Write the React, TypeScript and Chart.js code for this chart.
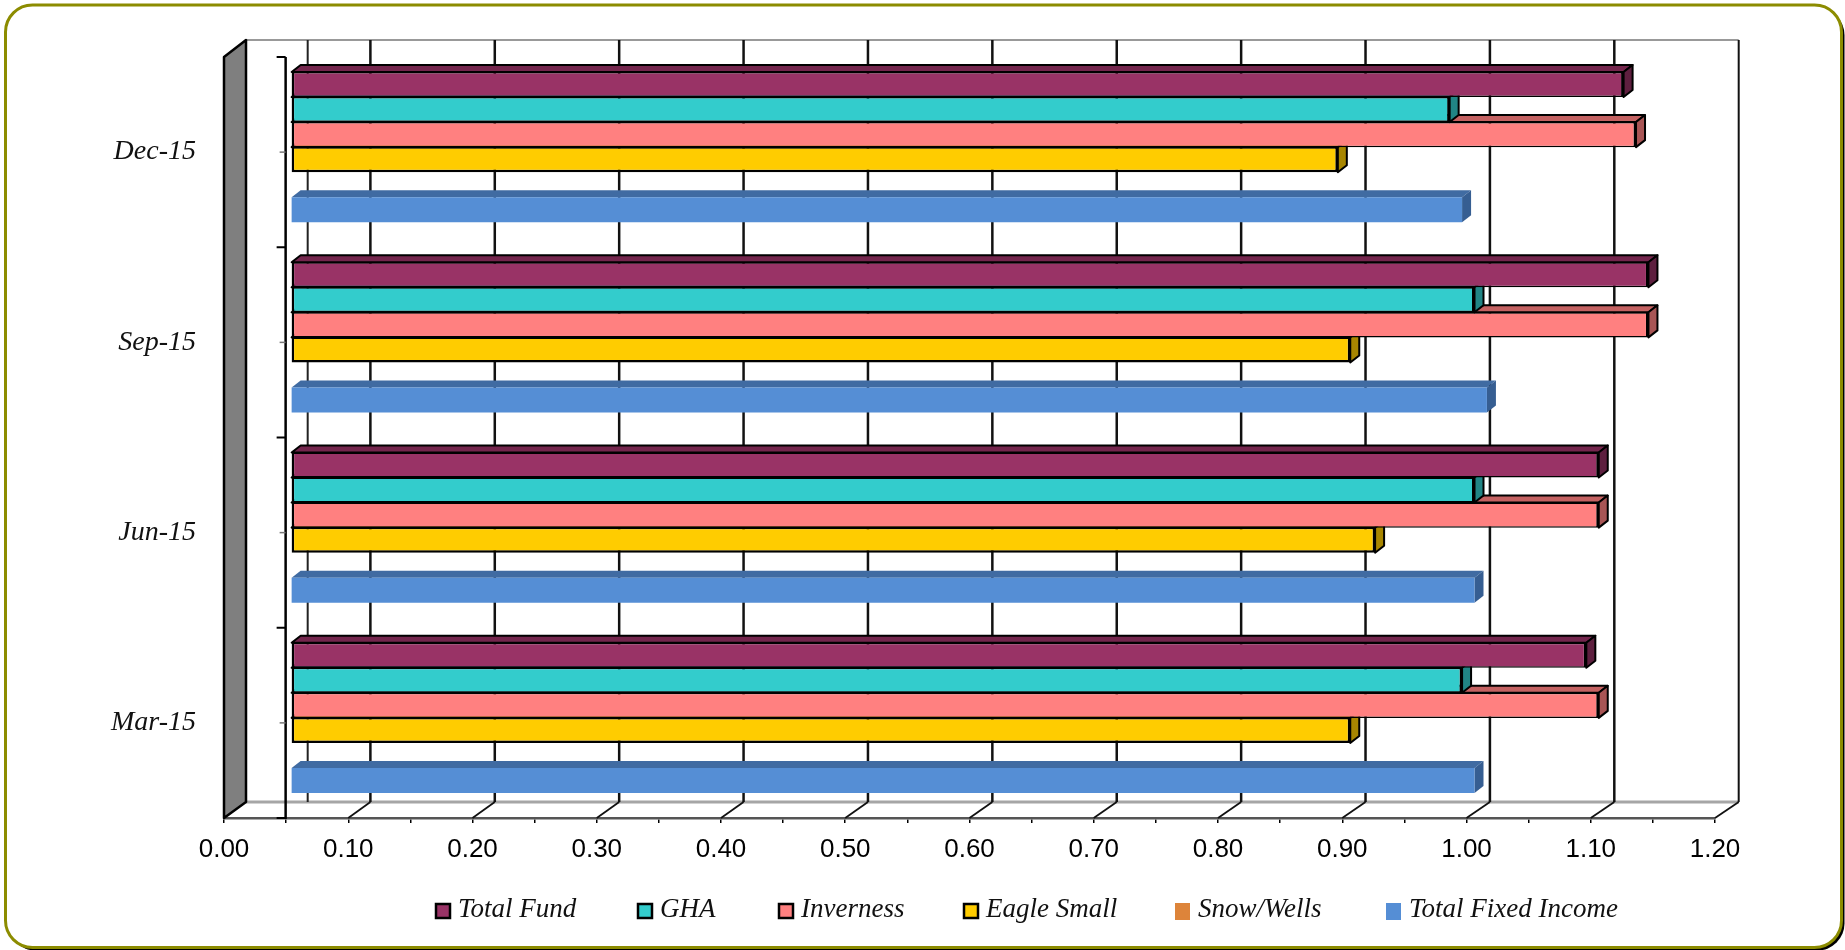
import React, { useEffect, useRef } from "react";
import { Chart, registerables } from "chart.js";

Chart.register(...registerables);

const categories = ["Dec-15", "Sep-15", "Jun-15", "Mar-15"];
const totalFund = [1.12, 1.14, 1.1, 1.09];
const gha = [0.98, 1.0, 1.0, 0.99];
const inverness = [1.13, 1.14, 1.1, 1.1];
const eagleSmall = [0.89, 0.9, 0.92, 0.9];
const snowWells = [null, null, null, null];
const totalFixedIncome = [0.99, 1.01, 1.0, 1.0];

const seriesNames = ["Total Fund", "GHA", "Inverness", "Eagle Small", "Snow/Wells", "Total Fixed Income"];
const seriesFill = ["#993366", "#33CCCC", "#FF8080", "#FFCC00", "#DD843A", "#558ED5"];
const seriesTop = ["#74264D", "#299E9E", "#C46262", "#C49C00", "#A8642C", "#406BA2"];
const seriesSide = ["#5E1F3F", "#218585", "#A85555", "#A88600", "#8F5525", "#365E92"];
const seriesOutlined = [true, true, true, true, false, false];
const legendLeft = [435, 637, 778, 963, 1175, 1386];

const SERIF = '"Liberation Serif", serif';
const SANS = '"Liberation Sans", Arial, sans-serif';
const SHIFT_X = 8;
const SHIFT_Y = -5;
const BAR_DX = 9;
const BAR_DY = -7;
const WALL_DY = -16;

const backX = (px: number) => px + 22 + (1.7 * (px - 224)) / 1491;

const line = (ctx: CanvasRenderingContext2D, x0: number, y0: number, x1: number, y1: number, color: string, width: number) => {
  ctx.beginPath();
  ctx.moveTo(x0, y0);
  ctx.lineTo(x1, y1);
  ctx.strokeStyle = color;
  ctx.lineWidth = width;
  ctx.stroke();
};

const poly = (ctx: CanvasRenderingContext2D, pts: number[][], fill: string, stroke: string | null, width = 0) => {
  ctx.beginPath();
  pts.forEach((p, i) => (i ? ctx.lineTo(p[0], p[1]) : ctx.moveTo(p[0], p[1])));
  ctx.closePath();
  ctx.fillStyle = fill;
  ctx.fill();
  if (stroke) {
    ctx.strokeStyle = stroke;
    ctx.lineWidth = width;
    ctx.lineJoin = "round";
    ctx.stroke();
  }
};

const framePlugin = {
  id: "frame",
  beforeDraw(chart: any) {
    const ctx = chart.ctx as CanvasRenderingContext2D;
    ctx.save();
    ctx.fillStyle = "#fff";
    ctx.fillRect(0, 0, chart.width, chart.height);
    ctx.beginPath();
    ctx.roundRect(5.5, 5, 1836, 942.5, 27);
    ctx.fillStyle = "#fff";
    ctx.shadowColor = "#000";
    ctx.shadowOffsetX = 3;
    ctx.shadowOffsetY = 3;
    ctx.fill();
    ctx.shadowColor = "transparent";
    ctx.strokeStyle = "#8C8C00";
    ctx.lineWidth = 3;
    ctx.stroke();
    ctx.restore();
  },
};

const wallsPlugin = {
  id: "walls",
  beforeDatasetsDraw(chart: any) {
    const ctx = chart.ctx as CanvasRenderingContext2D;
    const { x, y } = chart.scales;
    const area = chart.chartArea;
    const backTop = area.top + WALL_DY - 1;
    const backBottom = area.bottom + WALL_DY;
    const x0 = x.getPixelForValue(0);
    const x5 = x.getPixelForValue(0.05) - 0.5;
    const x12 = x.getPixelForValue(1.2);
    ctx.save();
    line(ctx, backX(x0), backBottom, backX(x12), backBottom, "#A6A6A6", 3);
    line(ctx, backX(x0), backTop, backX(x12), backTop, "#999", 2);
    line(ctx, backX(x5), backTop, backX(x5), backBottom, "#222", 2);
    for (let i = 1; i <= 12; i++) {
      const front = x.getPixelForValue(i / 10);
      const w = i === 12 ? 2 : 2.5;
      line(ctx, backX(front), backTop, backX(front), backBottom, "#111", w);
      line(ctx, front, area.bottom, backX(front), backBottom, "#111", 1.8);
    }
    poly(
      ctx,
      [
        [x0, area.top],
        [backX(x0), backTop],
        [backX(x0), backBottom],
        [x0, area.bottom],
      ],
      "#7F7F7F",
      "#000",
      2.5
    );
    line(ctx, x5, area.top, x5, area.bottom + 1, "#000", 2.5);
    const majors = categories.length;
    for (let i = 0; i <= majors; i++) {
      const yy = area.top + ((area.bottom - area.top) * i) / majors;
      line(ctx, x5 - 9, yy, x5, yy, "#000", 2);
    }
    categories.forEach((_c, i) => {
      const yy = y.getPixelForValue(i);
      line(ctx, x5 - 6, yy, x5, yy, "#777", 1.5);
    });
    ctx.restore();
  },
};

const seriesValues = [totalFund, gha, inverness, eagleSmall, snowWells, totalFixedIncome];

const depthPlugin = {
  id: "depth",
  beforeDatasetDraw(chart: any, args: any) {
    const ctx = chart.ctx as CanvasRenderingContext2D;
    ctx.save();
    ctx.translate(SHIFT_X, SHIFT_Y);
    const i = args.index;
    args.meta.data.forEach((bar: any, k: number) => {
      if (seriesValues[i][k] == null) return;
      const { x, y, base, height } = bar.getProps(["x", "y", "base", "height"], true);
      const t = y - height / 2;
      const b = y + height / 2;
      const stroke = seriesOutlined[i] ? "#000" : null;
      poly(ctx, [[base, t], [x, t], [x + BAR_DX, t + BAR_DY], [base + BAR_DX, t + BAR_DY]], seriesTop[i], stroke, 2);
      poly(ctx, [[x, t], [x + BAR_DX, t + BAR_DY], [x + BAR_DX, b + BAR_DY], [x, b]], seriesSide[i], stroke, 2);
    });
  },
  afterDatasetDraw(chart: any) {
    chart.ctx.restore();
  },
};

const legendPlugin = {
  id: "sideLegend",
  afterDraw(chart: any) {
    const ctx = chart.ctx as CanvasRenderingContext2D;
    ctx.save();
    ctx.font = `italic 27px ${SERIF}`;
    ctx.textBaseline = "middle";
    ctx.textAlign = "left";
    seriesNames.forEach((name, i) => {
      const x = legendLeft[i];
      ctx.fillStyle = seriesFill[i];
      if (seriesOutlined[i]) {
        ctx.fillRect(x + 1, 904, 14, 14);
        ctx.strokeStyle = "#000";
        ctx.lineWidth = 2.5;
        ctx.strokeRect(x + 1, 904, 14, 14);
      } else {
        ctx.fillRect(x, 903, 15, 17);
      }
      ctx.fillStyle = "#111";
      ctx.fillText(name, x + 23, 910);
    });
    ctx.restore();
  },
};

export default function App() {
  const ref = useRef<HTMLCanvasElement>(null);
  useEffect(() => {
    const chart = new Chart(ref.current as HTMLCanvasElement, {
      type: "bar",
      data: {
        labels: categories,
        datasets: seriesNames.map((label, i) => ({
          label,
          data: seriesValues[i],
          base: 0.048,
          backgroundColor: seriesFill[i],
          borderColor: "#000",
          borderWidth: seriesOutlined[i] ? { top: 1.5, bottom: i === 3 ? 2.5 : 1.5, left: 2.5, right: 2.5 } : 0,
          borderSkipped: false,
          clip: false,
        })) as any,
      },
      options: {
        indexAxis: "y",
        animation: false,
        responsive: false,
        devicePixelRatio: 1,
        layout: { padding: { top: 57, right: 130, left: 0, bottom: 0 } },
        datasets: { bar: { categoryPercentage: 0.79, barPercentage: 1 } },
        plugins: { legend: { display: false }, tooltip: { enabled: false } },
        scales: {
          x: {
            type: "linear",
            min: 0,
            max: 1.2,
            afterFit: (s: any) => {
              s.height = 132;
            },
            grid: { display: true, drawOnChartArea: false, drawTicks: true, tickLength: 5, color: "#000", lineWidth: 1.5 },
            border: { display: true, color: "#555", width: 2.5 },
            ticks: {
              stepSize: 0.05,
              autoSkip: false,
              maxRotation: 0,
              padding: 11,
              color: "#000",
              font: { family: SANS, size: 26 },
              callback: (v: any, i: number) => (i % 2 === 0 ? Number(v).toFixed(2) : ""),
            },
          },
          y: {
            type: "category",
            afterFit: (s: any) => {
              s.width = 224;
            },
            grid: { display: false, drawTicks: false },
            border: { display: false },
            ticks: {
              padding: 28,
              color: "#111",
              font: { family: SERIF, size: 28, style: "italic" },
            },
          },
        },
      } as any,
      plugins: [framePlugin, wallsPlugin, depthPlugin, legendPlugin],
    });
    return () => chart.destroy();
  }, []);
  return (
    <div style={{ position: "absolute", left: 0, top: 0, width: 1845, height: 950, background: "#fff" }}>
      <canvas ref={ref} width={1845} height={950} style={{ display: "block" }} />
    </div>
  );
}
